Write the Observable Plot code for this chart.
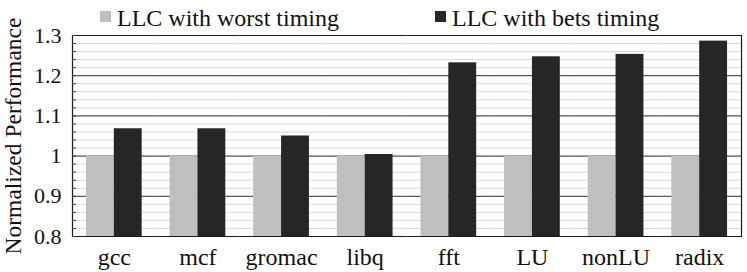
<!DOCTYPE html>
<html>
<head>
<meta charset="utf-8">
<script src="https://cdn.jsdelivr.net/npm/d3@7"></script>
<script src="https://cdn.jsdelivr.net/npm/@observablehq/plot@0.6"></script>
<style>
  html, body { margin: 0; padding: 0; background: #fff; }
  body { width: 747px; height: 272px; overflow: hidden; font-family: "Liberation Serif", "Times New Roman", Times, "DejaVu Serif", serif; color: #111; }
  #legend { position: relative; height: 30px; font-size: 24px; line-height: 1; }
  .item { position: absolute; top: 6px; white-space: nowrap; }
  .sw { position: absolute; top: 5px; width: 11px; height: 11px; }
  .lbl { position: absolute; top: 0; left: 17px; }
  #chart svg { display: block; }
  #chart svg, #chart svg text { font-family: "Liberation Serif", "Times New Roman", Times, "DejaVu Serif", serif !important; }
</style>
</head>
<body>
<div id="legend"></div>
<div id="chart"></div>
<script>
const categories = ["gcc", "mcf", "gromac", "libq", "fft", "LU", "nonLU", "radix"];
const seriesNames = ["LLC with worst timing", "LLC with bets timing"];
const worstValues = [1, 1, 1, 1, 1, 1, 1, 1];
const bestValues = [1.068, 1.068, 1.05, 1.004, 1.232, 1.247, 1.253, 1.286];
const yTickValues = [0.8, 0.9, 1, 1.1, 1.2, 1.3];
const yTickLabels = ["0.8", "0.9", "1", "1.1", "1.2", "1.3"];
const seriesColors = ["#bfbfbf", "#262626"];
const yLabel = "Normalized Performance";

// legend (HTML)
const legendLefts = [100, 435];
const legend = document.getElementById("legend");
seriesNames.forEach((name, i) => {
  const item = document.createElement("div");
  item.className = "item";
  item.style.left = legendLefts[i] + "px";
  const sw = document.createElement("div");
  sw.className = "sw";
  sw.style.background = seriesColors[i];
  const lbl = document.createElement("div");
  lbl.className = "lbl";
  lbl.textContent = name;
  item.appendChild(sw);
  item.appendChild(lbl);
  legend.appendChild(item);
});

const rows = categories.flatMap((c, i) => [
  {category: c, series: seriesNames[0], value: worstValues[i]},
  {category: c, series: seriesNames[1], value: bestValues[i]}
]);
const yMin = yTickValues[0];
const yMax = yTickValues[yTickValues.length - 1];
const minorTicks = d3.range(0, 26).map(i => +(yMin + i * 0.02).toFixed(2));
const majorInner = yTickValues.slice(1, -1);
const serif = '"Liberation Serif", "Times New Roman", Times, "DejaVu Serif", serif';

const chart = Plot.plot({
  width: 747,
  height: 242,
  marginTop: 5,
  marginRight: 6,
  marginBottom: 36,
  marginLeft: 72,
  style: {fontFamily: serif, fontSize: "22px", color: "#111", background: "#fff", overflow: "visible"},
  fx: {domain: categories, padding: 0, round: false, label: null},
  x: {domain: seriesNames, paddingInner: 0, paddingOuter: 0.5, round: false, axis: null},
  y: {domain: [yMin, yMax]},
  color: {domain: seriesNames, range: seriesColors},
  marks: [
    Plot.ruleY(minorTicks, {stroke: "#d9d9d9", strokeWidth: 1}),
    Plot.ruleY(majorInner, {stroke: "#3c3c3c", strokeWidth: 1}),
    Plot.barY(rows, {fx: "category", x: "series", y1: () => yMin, y2: "value", fill: "series"}),
    Plot.ruleY([yMin, yMax], {stroke: "#1a1a1a", strokeWidth: 1.2}),
    Plot.frame({anchor: "left", facetAnchor: "left", stroke: "#1a1a1a", strokeWidth: 1.2}),
    Plot.frame({anchor: "right", facetAnchor: "right", stroke: "#1a1a1a", strokeWidth: 1.2}),
    Plot.axisY({ticks: minorTicks, tickSize: -4, tickFormat: () => "", label: null, stroke: "#444"}),
    Plot.axisY({ticks: yTickValues, tickSize: 0, tickPadding: 11, fontSize: 22, tickFormat: (d) => yTickLabels[yTickValues.indexOf(d)], label: null}),
    Plot.axisY({ticks: [], tickSize: 0, fontSize: 23.5, label: yLabel, labelAnchor: "center", labelOffset: 68, labelArrow: "none"}),
    Plot.axisFx({anchor: "bottom", tickSize: 0, tickPadding: 11, fontSize: 24, label: null})
  ]
});
document.getElementById("chart").appendChild(chart);
</script>
</body>
</html>
